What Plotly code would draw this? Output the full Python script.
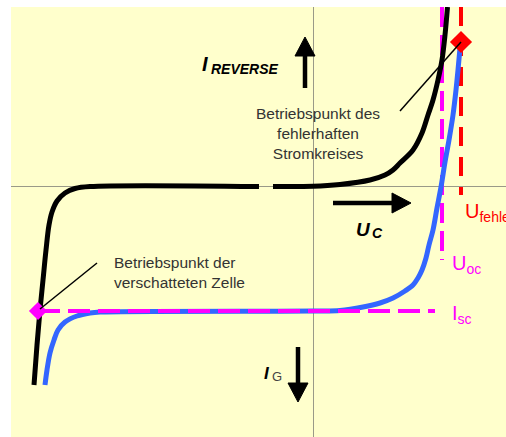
import plotly.graph_objects as go

# ---------------- data (arbitrary units: U to the right, I upwards) ----------------
# black curve: characteristic of the faulty string (reverse direction), with a small gap
black_left_u = [-27.9, -27.6, -27.3, -27.0, -26.7, -26.4, -26.1, -25.6, -24.8, -23.8, -22.3, -5.4]
black_left_i = [-19.85, -15.85, -12.35, -9.35, -6.35, -3.85, -2.55, -1.45, -0.65, -0.2, 0.0, 0.0]
black_right_u = [-4.0, 0.0, 2.7, 5.7, 7.2, 8.0, 8.7, 10.0, 10.9, 11.5, 12.0, 12.5, 12.9, 13.2, 13.45]
black_right_i = [0.0, 0.02, 0.2, 0.65, 1.15, 1.65, 2.35, 3.65, 5.35, 7.15, 8.65, 10.65, 12.65, 15.15, 17.95]

# blue curve: characteristic of the generator (cell / string)
blue_u = [-26.8, -26.6, -26.3, -25.9, -25.5, -24.8, -23.6, -22.3, -21.3, 0.0, 2.7, 5.0, 6.7, 8.0, 9.2,
          10.0, 10.5, 10.9, 11.3, 11.6, 12.0, 12.4, 12.8, 13.2, 13.6, 14.0, 14.3, 14.5, 14.7]
blue_i = [-19.85, -18.35, -16.65, -15.35, -14.35, -13.55, -12.95, -12.65, -12.55, -12.45, -12.4, -12.05,
          -11.65, -11.15, -10.45, -9.85, -9.15, -8.35, -7.15, -5.85, -4.35, -2.15, -0.05, 2.45,
          4.65, 7.15, 9.65, 11.65, 13.85]

U_oc = 12.9
U_fehler = 14.8
I_sc = -12.45
I_top = 17.95
U_oc_end = -7.35
U_fehler_end = -0.85
I_sc_start = -27.5
I_sc_end = 12.2

op_fault = (14.8, 14.45)     # Betriebspunkt des fehlerhaften Stromkreises
op_shaded = (-27.5, -12.45)  # Betriebspunkt der verschatteten Zelle

# ---------------- figure ----------------
MAG = "#ff00ff"
RED = "#ff0000"
BLUE = "#3366ff"
TXT = "#333333"
FONT = "Liberation Sans, Arial, sans-serif"

fig = go.Figure()

fig.add_trace(go.Scatter(x=[U_oc, U_oc], y=[I_top, U_oc_end], mode="lines",
                         line=dict(color=MAG, width=4, dash="20px,8px"), hoverinfo="skip"))
fig.add_trace(go.Scatter(x=[U_fehler, U_fehler], y=[I_top, U_fehler_end], mode="lines",
                         line=dict(color=RED, width=4, dash="19px,11px"), hoverinfo="skip"))
fig.add_trace(go.Scatter(x=blue_u, y=blue_i, mode="lines", line_shape="spline",
                         line=dict(color=BLUE, width=5), hoverinfo="skip"))
fig.add_trace(go.Scatter(x=[I_sc_start, I_sc_end], y=[I_sc, I_sc], mode="lines",
                         line=dict(color=MAG, width=4, dash="22px,8px"), hoverinfo="skip"))
fig.add_trace(go.Scatter(x=black_left_u, y=black_left_i, mode="lines", line_shape="spline",
                         line=dict(color="black", width=5), hoverinfo="skip"))
fig.add_trace(go.Scatter(x=black_right_u, y=black_right_i, mode="lines", line_shape="spline",
                         line=dict(color="black", width=5), hoverinfo="skip"))

# pointer lines to the operating points
shapes = [
    dict(type="line", xref="x", yref="y", x0=op_shaded[0] + 0.2, y0=op_shaded[1] + 0.2,
         x1=-21.6, y1=-7.65, line=dict(color="black", width=1.5)),
    dict(type="line", xref="x", yref="y", x0=op_fault[0], y0=op_fault[1],
         x1=8.7, y1=7.55, line=dict(color="black", width=1.5)),
]


def arrow(tail, tip, head_len=1.9, head_w=2.0, width=4.5):
    tx, ty = tail
    hx, hy = tip
    dx, dy = hx - tx, hy - ty
    L = (dx ** 2 + dy ** 2) ** 0.5
    ux, uy = dx / L, dy / L
    bx, by = hx - ux * head_len, hy - uy * head_len
    px, py = -uy * head_w / 2, ux * head_w / 2
    shapes.append(dict(type="line", xref="x", yref="y", x0=tx, y0=ty, x1=bx + ux * 0.3, y1=by + uy * 0.3,
                       line=dict(color="black", width=width)))
    shapes.append(dict(type="path", xref="x", yref="y",
                       path=f"M{hx},{hy} L{bx + px},{by + py} L{bx - px},{by - py} Z",
                       fillcolor="black", line=dict(color="black", width=1)))


arrow((-0.8, 9.85), (-0.8, 14.95))      # I_REVERSE up
arrow((2.0, -1.65), (9.8, -1.65))       # U_C right
arrow((-1.5, -16.05), (-1.5, -21.55))   # I_G down
fig.update_layout(shapes=shapes)

fig.add_trace(go.Scatter(x=[op_fault[0]], y=[op_fault[1]], mode="markers",
                         marker=dict(symbol="diamond", size=17, color=RED), hoverinfo="skip"))
fig.add_trace(go.Scatter(x=[op_shaded[0]], y=[op_shaded[1]], mode="markers",
                         marker=dict(symbol="diamond", size=14, color=MAG), hoverinfo="skip"))

ann = []


def text(x, y, s, size, color=TXT, xanchor="left", align="left"):
    ann.append(dict(x=x, y=y, xref="x", yref="y", text=s, showarrow=False, xanchor=xanchor,
                    yanchor="middle", align=align, font=dict(family=FONT, size=size, color=color)))


text(-20.1, -8.55, "Betriebspunkt der<br>verschatteten Zelle", 15.5)
text(0.5, 5.35, "Betriebspunkt des<br>fehlerhaften<br>Stromkreises", 15.5, xanchor="center", align="center")
text(-11.35, 12.3, "<b><i>I</i></b>", 20, color="black")
text(-10.45, 11.8, "<b><i>REVERSE</i></b>", 14, color="black")
text(4.05, -4.3, "<b><i>U</i></b>", 19, color="black")
text(5.65, -4.6, "<b><i>C</i></b>", 14, color="black")
text(-5.15, -18.7, "<b><i>I</i></b>", 17, color="black")
text(-4.35, -19.0, "G", 13, color="#444444")
text(15.0, -2.6, "U<sub>fehler</sub>", 20, color=RED)
text(13.7, -7.8, "U<sub>oc</sub>", 20, color=MAG)
text(13.7, -12.8, "I<sub>sc</sub>", 20, color=MAG)
fig.update_layout(annotations=ann)

fig.update_layout(
    width=506, height=437,
    margin=dict(l=11, r=0, t=7, b=0, pad=0),
    paper_bgcolor="white",
    plot_bgcolor="#ffffcc",
    showlegend=False,
    xaxis=dict(range=[-30.2, 19.3], showgrid=False, showticklabels=False, ticks="",
               zeroline=True, zerolinecolor="#9a9a88", zerolinewidth=1, fixedrange=True),
    yaxis=dict(range=[-25.05, 17.95], showgrid=False, showticklabels=False, ticks="",
               zeroline=True, zerolinecolor="#9a9a88", zerolinewidth=1, fixedrange=True),
)

fig.write_html("out.html", config={"displayModeBar": False},
               post_script="document.body.style.margin='0';")
